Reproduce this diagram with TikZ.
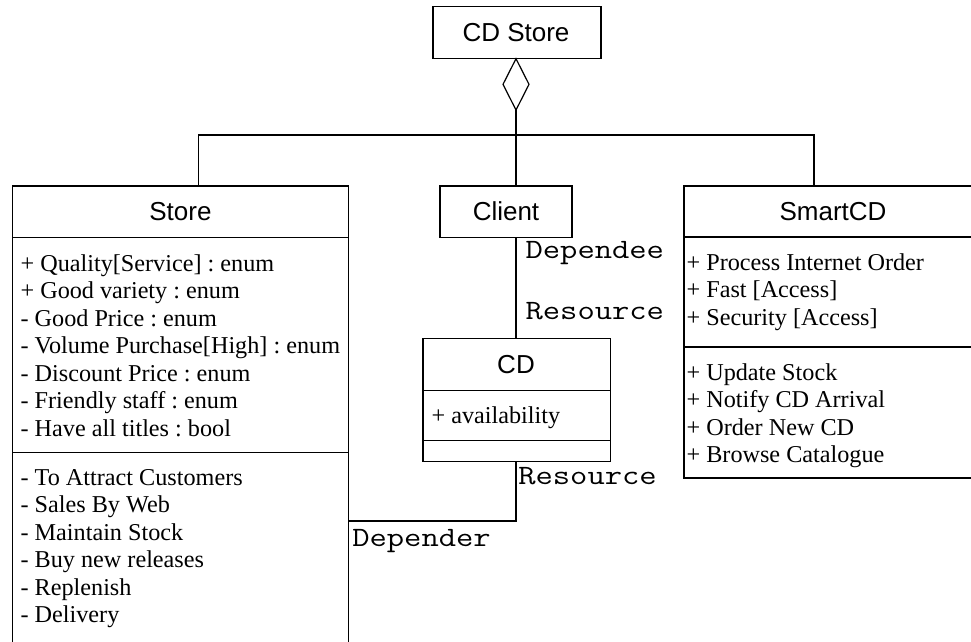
\documentclass[tikz,border=0pt]{standalone}
\usepackage{fontspec}
\usepackage{graphicx}
\setmainfont{Liberation Serif}
\newfontfamily\titlefont{Liberation Sans}
\usetikzlibrary{shapes.geometric}
\frenchspacing
\newcommand\lbltext[1]{\scalebox{1.2}[1]{#1}}
\begin{document}
\begin{tikzpicture}[x=1pt,y=-1pt, line width=1.2pt,
  box/.style={draw, rectangle, inner sep=0, outer sep=0},
  ttl/.style={font=\titlefont\fontsize{26}{30}\selectfont, anchor=base, inner sep=0},
  item/.style={font=\fontsize{24.2}{28}\selectfont, anchor=base west, inner sep=0},
  lbl/.style={font=\ttfamily\fontsize{28}{32}\selectfont, anchor=base west, inner sep=0}]
\useasboundingbox (0,0) rectangle (971,641);
\clip (0,0) rectangle (971,641);

% boxes
\node[box, minimum width=168, minimum height=52, anchor=north west] (cdstore) at (433,6.7) {};
\node[box, minimum width=335.8, minimum height=457, anchor=north west] (store) at (12.5,186) {};
\node[box, minimum width=132, minimum height=51.5, anchor=north west] (client) at (440,186) {};
\node[box, minimum width=187.3, minimum height=122.6, anchor=north west] (cd) at (423,338.7) {};
\node[box, minimum width=301, minimum height=292, anchor=north west] (smartcd) at (684,186) {};

% compartments
\draw (store.north west) ++(0,51.5) -- ++(335.8,0);
\draw (store.north west) ++(0,266.7) -- ++(335.8,0);
\draw (cd.north west) ++(0,51.6) -- ++(187.3,0);
\draw (cd.north west) ++(0,102) -- ++(187.3,0);
\draw (smartcd.north west) ++(0,51) -- ++(301,0);
\draw (smartcd.north west) ++(0,161) -- ++(301,0);

% titles
\node[ttl] (tcdstore) at (516,41.7) {CD Store};
\node[ttl] (tstore) at (180.4,220.7) {Store};
\node[ttl] (tclient) at (506,220.7) {Client};
\node[ttl] (tcd) at (516,373.3) {CD};
\node[ttl] (tsmart) at (833,220) {SmartCD};

% Store attributes
\node[item] (s1) at (20,271) {+ Quality[Service] : enum};
\node[item] (s2) at (20,298.5) {+ Good variety : enum};
\node[item] (s3) at (20,326) {- Good Price : enum};
\node[item] (s4) at (20,353.5) {- Volume Purchase[High] : enum};
\node[item] (s5) at (20,381) {- Discount Price : enum};
\node[item] (s6) at (20,408.5) {- Friendly staff : enum};
\node[item] (s7) at (20,436) {- Have all titles : bool};
% Store operations
\node[item] (o1) at (20,485) {- To Attract Customers};
\node[item] (o2) at (20,512.5) {- Sales By Web};
\node[item] (o3) at (20,540) {- Maintain Stock};
\node[item] (o4) at (20,567.5) {- Buy new releases};
\node[item] (o5) at (20,595) {- Replenish};
\node[item] (o6) at (20,622.5) {- Delivery};

% CD
\node[item] (c1) at (431,423.3) {+ availability};

% SmartCD
\node[item] (m1) at (686,270) {+ Process Internet Order};
\node[item] (m2) at (686,297.5) {+ Fast [Access]};
\node[item] (m3) at (686,325) {+ Security [Access]};
\node[item] (m4) at (686,380) {+ Update Stock};
\node[item] (m5) at (686,407.5) {+ Notify CD Arrival};
\node[item] (m6) at (686,435) {+ Order New CD};
\node[item] (m7) at (686,462.5) {+ Browse Catalogue};

% aggregation diamond
\node[diamond, draw, fill=white, minimum width=26, minimum height=51.3, inner sep=0, outer sep=0, anchor=north] (agg) at (516,58.7) {};

% connectors
\coordinate (bus) at (516,135);
\coordinate (sL) at (198.5,186);
\coordinate (sR) at (814,186);
\coordinate (depy) at (0,521);
\draw (agg.south) -- (agg.south |- client.north);
\draw (sL) |- (bus) -| (sR);
\draw (agg.south |- client.south) -- (agg.south |- cd.north);
\draw (agg.south |- cd.south) |- (store.east |- depy);

% labels
\node[lbl] (l1) at (525,258.3) {\lbltext{Dependee}};
\node[lbl] (l2) at (525,319.3) {\lbltext{Resource}};
\node[lbl] (l3) at (517.7,484) {\lbltext{Resource}};
\node[lbl] (l4) at (351.7,546.7) {\lbltext{Depender}};
\end{tikzpicture}
\end{document}
